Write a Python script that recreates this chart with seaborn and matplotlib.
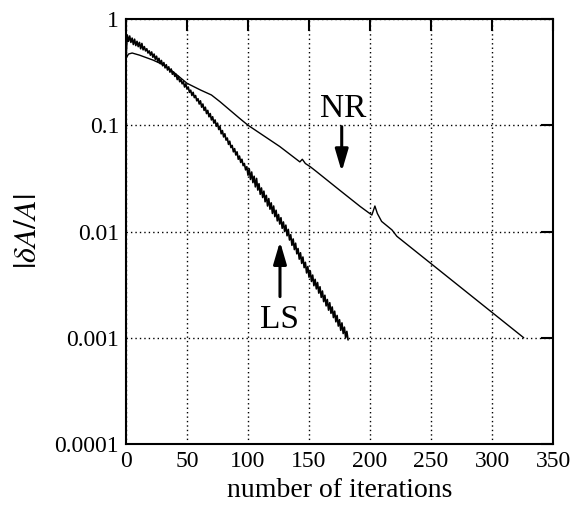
import numpy as np
import pandas as pd
import matplotlib
matplotlib.use("Agg")
import matplotlib.pyplot as plt
import seaborn as sns

# Newton-Raphson (NR): smooth curve (iteration, log10 |dA/A|)
nr_iter = [0, 2, 5, 11, 22, 31, 39, 50, 61, 70, 77, 93, 100, 126, 142.5, 144.5, 147,
           151, 156, 175, 192, 201.5, 204, 206, 209.5, 218, 222, 326]
nr_exp = [-0.37, -0.33, -0.32, -0.34, -0.386, -0.433, -0.50, -0.605, -0.668, -0.715,
          -0.778, -0.934, -1.0, -1.20, -1.345, -1.32, -1.36, -1.39, -1.435, -1.61,
          -1.765, -1.845, -1.76, -1.83, -1.905, -1.985, -2.045, -3.0]

# line search (LS): zig-zags every iteration, log10 |dA/A| for iterations 0..182
ls_exp = [-0.37, -0.15, -0.21, -0.16, -0.22, -0.18, -0.24, -0.19, -0.25, -0.21,
          -0.26, -0.22, -0.28, -0.23, -0.29, -0.26, -0.30, -0.28, -0.32, -0.30,
          -0.34, -0.31, -0.36, -0.33, -0.38, -0.35, -0.40, -0.37, -0.42, -0.39,
          -0.44, -0.41, -0.46, -0.43, -0.48, -0.45, -0.50, -0.47, -0.52, -0.50,
          -0.54, -0.52, -0.57, -0.54, -0.59, -0.57, -0.61, -0.59, -0.64, -0.61,
          -0.66, -0.64, -0.69, -0.67, -0.72, -0.69, -0.74, -0.72, -0.77, -0.75,
          -0.80, -0.77, -0.83, -0.80, -0.86, -0.83, -0.89, -0.86, -0.92, -0.89,
          -0.95, -0.92, -0.98, -0.95, -1.01, -0.98, -1.04, -1.01, -1.08, -1.05,
          -1.11, -1.08, -1.14, -1.12, -1.18, -1.15, -1.21, -1.19, -1.25, -1.22,
          -1.28, -1.25, -1.32, -1.29, -1.35, -1.32, -1.38, -1.36, -1.42, -1.39,
          -1.47, -1.41, -1.51, -1.44, -1.54, -1.48, -1.58, -1.50, -1.61, -1.55,
          -1.65, -1.59, -1.68, -1.62, -1.72, -1.66, -1.76, -1.69, -1.79, -1.73,
          -1.83, -1.76, -1.86, -1.80, -1.90, -1.84, -1.93, -1.87, -1.97, -1.91,
          -2.00, -1.94, -2.04, -1.98, -2.08, -2.03, -2.13, -2.07, -2.17, -2.11,
          -2.21, -2.16, -2.26, -2.20, -2.30, -2.24, -2.34, -2.29, -2.39, -2.33,
          -2.43, -2.37, -2.47, -2.41, -2.51, -2.45, -2.54, -2.48, -2.58, -2.52,
          -2.62, -2.56, -2.66, -2.60, -2.70, -2.64, -2.74, -2.67, -2.77, -2.71,
          -2.81, -2.75, -2.85, -2.79, -2.89, -2.83, -2.93, -2.86, -2.96, -2.90,
          -3.00, -2.94, -3.02]

y_ticks = [1e-4, 1e-3, 1e-2, 0.1, 1]
y_ticklabels = ["0.0001", "0.001", "0.01", "0.1", "1"]
x_ticks = [0, 50, 100, 150, 200, 250, 300, 350]

nr = pd.DataFrame({"iter": nr_iter, "err": 10.0 ** np.array(nr_exp)})
ls = pd.DataFrame({"iter": np.arange(len(ls_exp)), "err": 10.0 ** np.array(ls_exp)})

sns.set_style("white")
plt.rcParams["font.family"] = ["Liberation Serif", "DejaVu Serif"]
plt.rcParams["mathtext.fontset"] = "stix"
plt.rcParams["text.color"] = "black"
plt.rcParams["axes.labelcolor"] = "black"

fig = plt.figure(figsize=(5.7, 5.11), dpi=100)
ax = fig.add_axes([0.2211, 0.1311, 0.7491, 0.8317])

sns.lineplot(data=nr, x="iter", y="err", color="black", lw=1.0, sort=False,
             estimator=None, ax=ax)
sns.lineplot(data=ls, x="iter", y="err", color="black", lw=1.2, sort=False,
             estimator=None, ax=ax)

ax.set_yscale("log")
ax.set_xlim(0, 350)
ax.set_ylim(1e-4, 1)
ax.set_xticks(x_ticks)
ax.set_yticks(y_ticks)
ax.set_yticklabels(y_ticklabels)
ax.minorticks_off()
ax.tick_params(direction="in", length=8.5, width=1.5, top=True, right=True,
               labelsize=17, colors="black", pad=5)
for s in ax.spines.values():
    s.set_linewidth(1.5)
    s.set_color("black")
ax.grid(True, color="black", linestyle=(0, (1, 2.2)), linewidth=1.0)

ax.set_xlabel("number of iterations", fontsize=20, labelpad=4)
ax.set_ylabel(r"$|\delta A/A|$", fontsize=23, labelpad=8)

arrow = dict(arrowstyle="-|>,head_length=0.95,head_width=0.28", lw=2.2,
             color="black", mutation_scale=14, shrinkA=0, shrinkB=0)
ax.annotate("", xy=(176.8, 0.0366), xytext=(176.8, 0.097), arrowprops=arrow)
ax.annotate("", xy=(126.2, 0.00804), xytext=(126.2, 0.00244), arrowprops=arrow)
ax.text(178, 0.1197, "NR", fontsize=24, ha="center", va="baseline")
ax.text(126.2, 0.00124, "LS", fontsize=24, ha="center", va="baseline")

fig.savefig("out.png", dpi=100)
